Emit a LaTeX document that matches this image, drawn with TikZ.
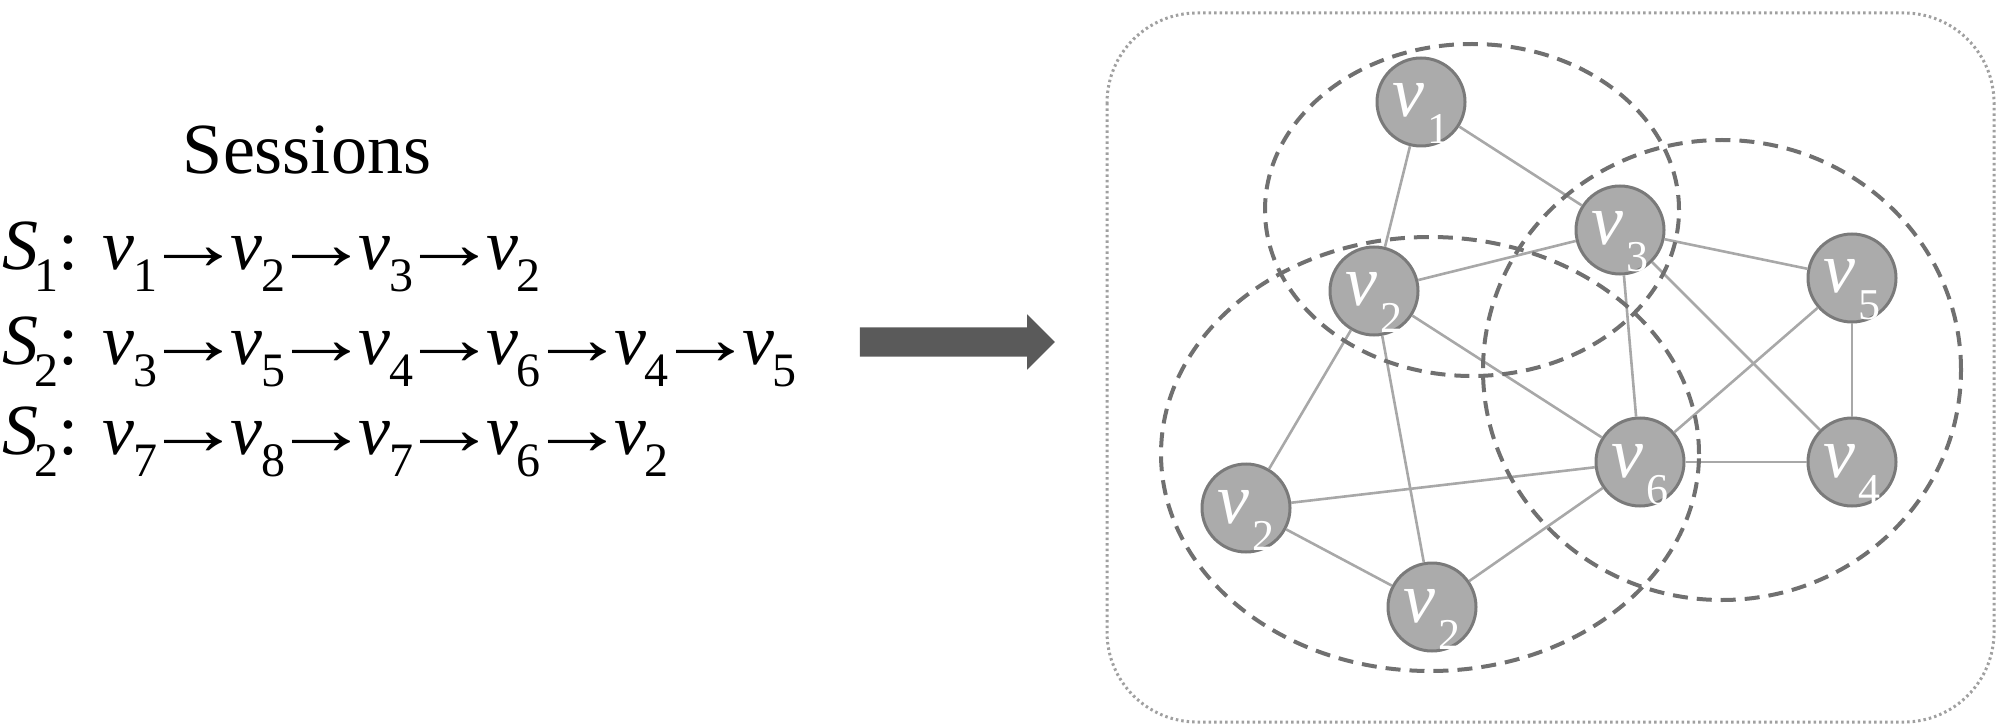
\documentclass[tikz,border=0pt]{standalone}
\usepackage{fontspec}
\setmainfont{Liberation Serif}
\usetikzlibrary{shapes.arrows}
\definecolor{nodefill}{HTML}{ABABAB}
\definecolor{nodeline}{HTML}{7A7A7A}
\definecolor{edgecol}{HTML}{A8A8A8}
\definecolor{dashcol}{HTML}{707070}
\definecolor{boxcol}{HTML}{A0A0A0}
\definecolor{arrcol}{HTML}{5A5A5A}
\newcommand\seqv[1]{\textit{v}\kern-0.02em\raisebox{-22pt}{\fontsize{48}{48}\selectfont #1}}
\newcommand\seqs[1]{\textit{S}\kern-0.05em\raisebox{-22pt}{\fontsize{48}{48}\selectfont #1}}
\newcommand\nlab[1]{\textit{v}\kern0.03em\raisebox{-27pt}{\fontsize{44}{44}\selectfont #1}}
\newcommand\ar{\kern-0.17em\scalebox{1.36}[1.05]{→}\kern-0.17em}
\tikzset{
  vnode/.style={circle, draw=nodeline, line width=3pt, fill=nodefill, minimum size=88pt,
    inner sep=0pt, text=white, font=\fontsize{72}{72}\selectfont,
    text height=42pt, text depth=12pt},
  edge/.style={draw=edgecol, line width=2.6pt},
  grp/.style={draw=dashcol, line width=4pt, dash pattern=on 15pt off 9pt},
  seqline/.style={anchor=base west, inner sep=0pt, font=\fontsize{72}{72}\selectfont},
  outerbox/.style={draw=boxcol, line width=3pt, dash pattern=on 2.5pt off 3pt, rounded corners=90pt}
}
\begin{document}
\begin{tikzpicture}[x=1pt,y=-1pt]
\useasboundingbox (0,0) rectangle (2000,727);
% left text
\node[anchor=base, inner sep=0pt, font=\fontsize{72}{72}\selectfont] (title) at (307,174) {Sessions};
\node[seqline] (s1) at (2,270) {\seqs{1}: \seqv{1}\ar\seqv{2}\ar\seqv{3}\ar\seqv{2}};
\node[seqline] (s2) at (2,364) {\seqs{2}: \seqv{3}\ar\seqv{5}\ar\seqv{4}\ar\seqv{6}\ar\seqv{4}\ar\seqv{5}};
\node[seqline] (s3) at (2,454) {\seqs{2}: \seqv{7}\ar\seqv{8}\ar\seqv{7}\ar\seqv{6}\ar\seqv{2}};
% big arrow
\node[single arrow, fill=arrcol, draw=none, minimum height=195pt, inner xsep=0pt, inner ysep=14.5pt,
  single arrow head extend=13pt, single arrow head indent=0pt, single arrow tip angle=90] (bigarrow) at (950,342) {};
% outer box
\draw[outerbox] (1107,13) rectangle (1994,722);
% nodes
\node[vnode] (n1) at (1421,102) {\nlab{1}};
\node[vnode] (n3) at (1620,230) {\nlab{3}};
\node[vnode] (n2a) at (1374,291) {\nlab{2}};
\node[vnode] (n5) at (1852,278) {\nlab{5}};
\node[vnode] (n6) at (1640,462) {\nlab{6}};
\node[vnode] (n4) at (1852,462) {\nlab{4}};
\node[vnode] (n2b) at (1246,508) {\nlab{2}};
\node[vnode] (n2c) at (1432,607) {\nlab{2}};
% edges
\draw[edge] (n1) -- (n2a);
\draw[edge] (n1) -- (n3);
\draw[edge] (n3) -- (n2a);
\draw[edge] (n3) -- (n5);
\draw[edge] (n3) -- (n6);
\draw[edge] (n3) -- (n4);
\draw[edge] (n2a) -- (n6);
\draw[edge] (n2a) -- (n2b);
\draw[edge] (n2a) -- (n2c);
\draw[edge] (n5) -- (n6);
\draw[edge] (n5) -- (n4);
\draw[edge] (n6) -- (n4);
\draw[edge] (n6) -- (n2b);
\draw[edge] (n6) -- (n2c);
\draw[edge] (n2b) -- (n2c);
% groups
\draw[grp] (1472,210) ellipse [x radius=207pt, y radius=166pt];
\draw[grp] (1430,454) ellipse [x radius=269pt, y radius=217pt];
\draw[grp] (1722,370) ellipse [x radius=239pt, y radius=230pt];
\end{tikzpicture}
\end{document}
